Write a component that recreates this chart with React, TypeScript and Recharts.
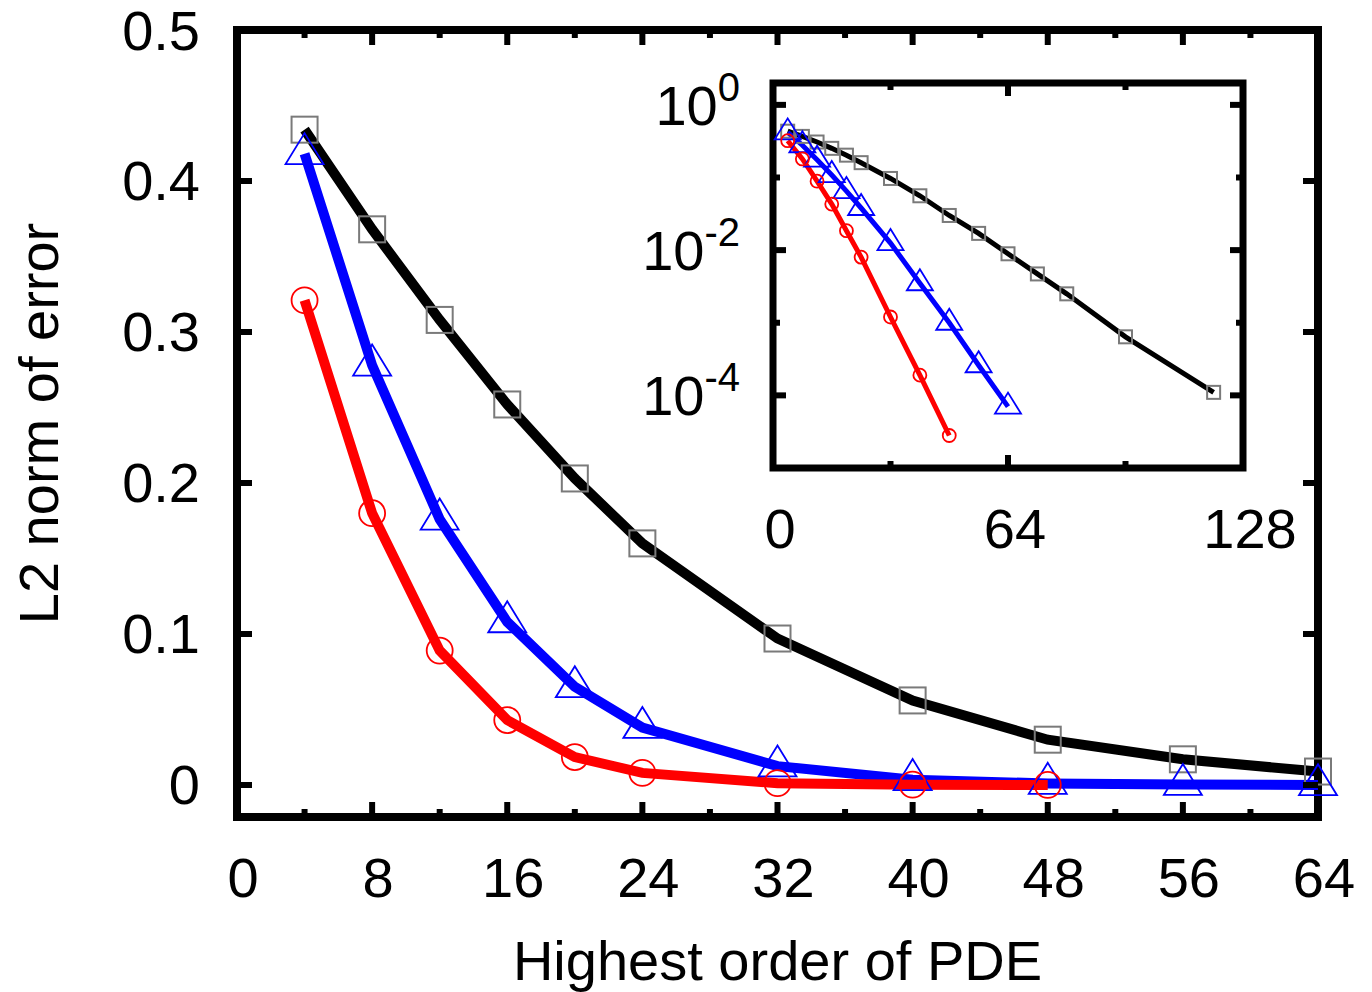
import React from 'react';
import { LineChart, Line, XAxis, YAxis, ReferenceArea, Label } from 'recharts';

// orders of the PDE at which the error was measured
const orders = [4, 8, 12, 16, 20, 24, 32, 40, 48, 56, 64];
const blackOrders = [4, 8, 12, 16, 20, 24, 32, 40, 48, 56, 64, 72, 80, 96, 120];
const redOrders = [4, 8, 12, 16, 20, 24, 32, 40, 48];

// L2 norm of the error
const blackErr = [0.434, 0.368, 0.308, 0.252, 0.203, 0.16, 0.097, 0.056, 0.03, 0.017, 0.0089, 0.0047, 0.0025, 0.00064, 0.00011];
const blueErr = [0.418, 0.278, 0.176, 0.108, 0.065, 0.038, 0.0125, 0.0035, 0.001, 0.00026, 0.00007];
const redErr = [0.321, 0.18, 0.089, 0.043, 0.0185, 0.008, 0.0012, 0.00019, 0.000028];

const xTicks = [0, 4, 8, 12, 16, 20, 24, 28, 32, 36, 40, 44, 48, 52, 56, 60, 64];
const yTicks = [0, 0.1, 0.2, 0.3, 0.4, 0.5];
const insetXTicks = [0, 32, 64, 96, 128];
const insetYTicks = [1, 0.1, 0.01, 0.001, 0.0001];

const FONT = '"Liberation Sans", Arial, Helvetica, sans-serif';
const FS = 56;
const MAIN_W = 1081;
const MAIN_H = 787;
const INSET_W = 470;
const INSET_H = 385;
const Y_MIN = -0.0212;

const pts = (xs: number[], ys: number[], maxX = Infinity) =>
  xs.map((x, i) => ({ x, y: ys[i] })).filter((p) => p.x <= maxX);

const squareDot = (s: number) => (p: any) => (
  <rect key={`s${p.index}`} x={p.cx - s / 2} y={p.cy - s / 2} width={s} height={s}
    fill="none" stroke="#7a7a7a" strokeWidth={2} />
);
const triDot = (w: number, h: number) => (p: any) => (
  <polygon key={`t${p.index}`}
    points={`${p.cx},${p.cy - (h * 2) / 3} ${p.cx - w / 2},${p.cy + h / 3} ${p.cx + w / 2},${p.cy + h / 3}`}
    fill="none" stroke="#0000ff" strokeWidth={1.8} />
);
const circDot = (r: number) => (p: any) => (
  <circle key={`c${p.index}`} cx={p.cx} cy={p.cy} r={r} fill="none" stroke="#ff0000" strokeWidth={1.8} />
);

const MainXTick = (props: any) => {
  const { x, y, payload } = props;
  const major = payload.value % 8 === 0;
  const len = major ? 15 : 8;
  return (
    <g>
      <line x1={x} x2={x} y1={y} y2={y - len} stroke="#000" strokeWidth={6} />
      <line x1={x} x2={x} y1={y - MAIN_H} y2={y - MAIN_H + len} stroke="#000" strokeWidth={6} />
      {major && (
        <text x={x + 6} y={y + 60} textAnchor="middle" dominantBaseline="central"
          fontSize={FS} fontFamily={FONT} fill="#000">{payload.value}</text>
      )}
    </g>
  );
};

const MainYTick = (props: any) => {
  const { x, y, payload } = props;
  return (
    <g>
      <line x1={x} x2={x + 15} y1={y} y2={y} stroke="#000" strokeWidth={6} />
      <line x1={x + MAIN_W} x2={x + MAIN_W - 15} y1={y} y2={y} stroke="#000" strokeWidth={6} />
      <text x={x - 37} y={y} textAnchor="end" dominantBaseline="central"
        fontSize={FS} fontFamily={FONT} fill="#000">{payload.value}</text>
    </g>
  );
};

const InsetXTick = (props: any) => {
  const { x, y, payload } = props;
  const major = payload.value % 64 === 0;
  const len = major ? 13 : 7;
  return (
    <g>
      <line x1={x} x2={x} y1={y} y2={y - len} stroke="#000" strokeWidth={6} />
      <line x1={x} x2={x} y1={y - INSET_H} y2={y - INSET_H + len} stroke="#000" strokeWidth={6} />
      {major && (
        <text x={x + 7} y={y + 60} textAnchor="middle" dominantBaseline="central"
          fontSize={FS} fontFamily={FONT} fill="#000">{payload.value}</text>
      )}
    </g>
  );
};

const InsetYTick = (props: any) => {
  const { x, y, payload } = props;
  const exp = Math.round(Math.log10(payload.value));
  const major = exp % 2 === 0;
  const len = major ? 13 : 7;
  return (
    <g>
      <line x1={x} x2={x + len} y1={y} y2={y} stroke="#000" strokeWidth={6} />
      <line x1={x + INSET_W} x2={x + INSET_W - len} y1={y} y2={y} stroke="#000" strokeWidth={6} />
      {major && (
        <text x={x - 33} y={y + 20} textAnchor="end" fontSize={FS} fontFamily={FONT} fill="#000">
          <tspan>10</tspan>
          <tspan dy={-24} fontSize={40}>{exp === 0 ? '0' : `-${-exp}`}</tspan>
        </text>
      )}
    </g>
  );
};

const xTitle = (p: any) => {
  const vb = p.viewBox;
  return (
    <text x={vb.x + vb.width / 2} y={vb.y + 163} textAnchor="middle"
      fontSize={FS} fontFamily={FONT} fill="#000">Highest order of PDE</text>
  );
};

const yTitle = (p: any) => {
  const vb = p.viewBox;
  const cx = vb.x + 38;
  const cy = vb.y + vb.height / 2;
  return (
    <text x={cx} y={cy} transform={`rotate(-90 ${cx} ${cy})`} textAnchor="middle"
      dominantBaseline="central" fontSize={FS} fontFamily={FONT} fill="#000">L2 norm of error</text>
  );
};

export default function App() {
  const mainBlack = pts(blackOrders, blackErr, 64);
  const mainBlue = pts(orders, blueErr);
  const mainRed = pts(redOrders, redErr);
  const insetBlack = pts(blackOrders, blackErr);

  return (
    <div style={{ position: 'absolute', left: 0, top: 0, width: 1372, height: 992, background: '#fff' }}>
      <div style={{ position: 'absolute', left: 0, top: 0 }}>
        <LineChart width={1372} height={992} margin={{ top: 30, right: 54, bottom: 0, left: 0 }}>
          <XAxis type="number" dataKey="x" domain={[0, 64]} ticks={xTicks} interval={0}
            height={175} tickSize={0} tickMargin={0} axisLine={false} tick={<MainXTick />}>
            <Label content={xTitle} />
          </XAxis>
          <YAxis type="number" dataKey="y" domain={[Y_MIN, 0.5]} ticks={yTicks} interval={0}
            width={237} tickSize={0} tickMargin={0} axisLine={false} tick={<MainYTick />}>
            <Label content={yTitle} />
          </YAxis>
          <ReferenceArea x1={0} x2={64} y1={Y_MIN} y2={0.5} fill="none" stroke="#000" strokeWidth={8} ifOverflow="visible" />
          <Line data={mainBlack} dataKey="y" stroke="none" dot={squareDot(26)} activeDot={false} isAnimationActive={false} />
          <Line data={mainBlue} dataKey="y" stroke="none" dot={triDot(38, 31)} activeDot={false} isAnimationActive={false} />
          <Line data={mainRed} dataKey="y" stroke="none" dot={circDot(13)} activeDot={false} isAnimationActive={false} />
          <Line data={mainBlack} dataKey="y" stroke="#000" strokeWidth={10} dot={false} activeDot={false} isAnimationActive={false} />
          <Line data={mainBlue} dataKey="y" stroke="#0000ff" strokeWidth={10} dot={false} activeDot={false} isAnimationActive={false} />
          <Line data={mainRed} dataKey="y" stroke="#ff0000" strokeWidth={10} dot={false} activeDot={false} isAnimationActive={false} />
        </LineChart>
      </div>
      <div style={{ position: 'absolute', left: 600, top: 53 }}>
        <LineChart width={700} height={520} margin={{ top: 30, right: 57, bottom: 0, left: 0 }}>
          <XAxis type="number" dataKey="x" domain={[0, 128]} ticks={insetXTicks} interval={0}
            height={105} tickSize={0} tickMargin={0} axisLine={false} tick={<InsetXTick />} />
          <YAxis type="number" dataKey="y" scale="log" domain={[1e-5, 2]} allowDataOverflow ticks={insetYTicks}
            interval={0} width={173} tickSize={0} tickMargin={0} axisLine={false} tick={<InsetYTick />} />
          <ReferenceArea x1={0} x2={128} y1={1e-5} y2={2} fill="#fff" stroke="#000" strokeWidth={7} ifOverflow="visible" />
          <Line data={insetBlack} dataKey="y" stroke="none" dot={squareDot(13)} activeDot={false} isAnimationActive={false} />
          <Line data={mainBlue} dataKey="y" stroke="none" dot={triDot(26, 21)} activeDot={false} isAnimationActive={false} />
          <Line data={mainRed} dataKey="y" stroke="none" dot={circDot(6.5)} activeDot={false} isAnimationActive={false} />
          <Line data={insetBlack} dataKey="y" stroke="#000" strokeWidth={5} dot={false} activeDot={false} isAnimationActive={false} />
          <Line data={mainBlue} dataKey="y" stroke="#0000ff" strokeWidth={5} dot={false} activeDot={false} isAnimationActive={false} />
          <Line data={mainRed} dataKey="y" stroke="#ff0000" strokeWidth={5} dot={false} activeDot={false} isAnimationActive={false} />
        </LineChart>
      </div>
    </div>
  );
}
